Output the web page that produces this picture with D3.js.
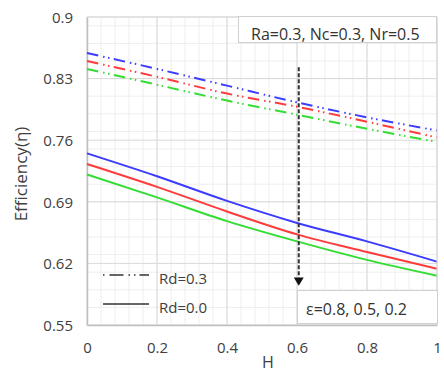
<!DOCTYPE html>
<html>
<head>
<meta charset="utf-8">
<script src="https://cdn.jsdelivr.net/npm/d3@7"></script>
<style>
  body { margin: 0; background: #fff; }
  svg { font-family: "Open Sans", sans-serif; }
</style>
</head>
<body>
<svg id="chart" width="444" height="374"></svg>
<script>
// H values along the x axis
const hValues = [0, 0.2, 0.4, 0.6, 0.8, 1];

// Rd = 0.3 (dash-dot), eps = 0.8, 0.5, 0.2
const rd3Eps08 = [0.859, 0.841, 0.822, 0.803, 0.786, 0.771];
const rd3Eps05 = [0.850, 0.832, 0.813, 0.798, 0.781, 0.763];
const rd3Eps02 = [0.841, 0.823, 0.805, 0.789, 0.773, 0.758];

// Rd = 0.0 (solid), eps = 0.8, 0.5, 0.2
const rd0Eps08 = [0.745, 0.719, 0.691, 0.666, 0.645, 0.622];
const rd0Eps05 = [0.733, 0.707, 0.679, 0.653, 0.633, 0.614];
const rd0Eps02 = [0.721, 0.695, 0.668, 0.645, 0.624, 0.606];

const xTicks = [0, 0.2, 0.4, 0.6, 0.8, 1];
const yTicks = [0.55, 0.62, 0.69, 0.76, 0.83, 0.9];

const svg = d3.select("#chart");
const margin = { top:17, right:7, bottom:49, left:87 };
const width = +svg.attr("width");
const height = +svg.attr("height");
const plotWidth = width - margin.left - margin.right;
const plotHeight = height - margin.top - margin.bottom;

const g = svg.append("g")
  .attr("transform", `translate(${margin.left}, ${margin.top})`);

const x = d3.scaleLinear().domain([0, 1]).range([0, plotWidth]);
const y = d3.scaleLinear().domain([0.55, 0.9]).range([plotHeight, 0]);

// minor grid
const xMinor = d3.range(0, 1.0001, 0.04);
const yMinor = d3.range(0.55, 0.9001, 0.02);

g.append("g").selectAll("line")
  .data(xMinor)
  .join("line")
  .attr("x1", d => x(d)).attr("x2", d => x(d))
  .attr("y1", 0).attr("y2", plotHeight)
  .attr("stroke", "#eeeeee");

g.append("g").selectAll("line")
  .data(yMinor)
  .join("line")
  .attr("x1", 0).attr("x2", plotWidth)
  .attr("y1", d => y(d)).attr("y2", d => y(d))
  .attr("stroke", "#eeeeee");

// major grid
g.append("g").selectAll("line")
  .data(xTicks)
  .join("line")
  .attr("x1", d => x(d)).attr("x2", d => x(d))
  .attr("y1", 0).attr("y2", plotHeight)
  .attr("stroke", "#d9d9d9");

g.append("g").selectAll("line")
  .data(yTicks)
  .join("line")
  .attr("x1", 0).attr("x2", plotWidth)
  .attr("y1", d => y(d)).attr("y2", d => y(d))
  .attr("stroke", "#d9d9d9");

// axes
const xAxis = g.append("g")
  .attr("transform", `translate(0, ${plotHeight})`)
  .call(d3.axisBottom(x).tickValues(xTicks).tickSize(0).tickPadding(17).tickFormat(d3.format("")));

const yAxis = g.append("g")
  .call(d3.axisLeft(y).tickValues(yTicks).tickSize(0).tickPadding(14).tickFormat(d3.format(".2~f")));

[xAxis, yAxis].forEach(a => {
  a.select(".domain").attr("stroke", "#bfbfbf").attr("stroke-width", 1.5);
  a.selectAll("text")
    .attr("font-family", "Open Sans, sans-serif")
    .attr("font-size", 15)
    .attr("fill", "#404040");
});
yAxis.selectAll("text").attr("dy", "0.35em");

// axis labels
svg.append("text")
  .attr("x", 268)
  .attr("y", height - 6)
  .attr("text-anchor", "middle")
  .attr("font-size", 16)
  .attr("fill", "#404040")
  .text("H");

svg.append("text")
  .attr("transform", "rotate(-90)")
  .attr("x", -174)
  .attr("y", 27)
  .attr("text-anchor", "middle")
  .attr("font-size", 17)
  .attr("fill", "#404040")
  .text("Efficiency(η)");

// series
const colors = ["#3c3cff", "#ff3c3c", "#33dd33"];
const dashDot = "11.5,5,1.5,3.5,1.5,4.5";

const series = [
  { vals: rd3Eps08, color: colors[0], dash: dashDot },
  { vals: rd3Eps05, color: colors[1], dash: dashDot },
  { vals: rd3Eps02, color: colors[2], dash: dashDot },
  { vals: rd0Eps08, color: colors[0], dash: null },
  { vals: rd0Eps05, color: colors[1], dash: null },
  { vals: rd0Eps02, color: colors[2], dash: null }
];

const line = d3.line()
  .x((d, i) => x(hValues[i]))
  .y(d => y(d))
  .curve(d3.curveMonotoneX);

g.selectAll(".series")
  .data(series)
  .join("path")
  .attr("class", "series")
  .attr("d", d => line(d.vals))
  .attr("fill", "none")
  .attr("stroke", d => d.color)
  .attr("stroke-width", 2)
  .attr("stroke-dasharray", d => d.dash);

// plot frame (top / right)
g.append("path")
  .attr("d", `M0,0H${plotWidth}V${plotHeight}`)
  .attr("fill", "none")
  .attr("stroke", "#d9d9d9");

// epsilon arrow
const ax = x(0.605);
g.append("line")
  .attr("x1", ax).attr("x2", ax)
  .attr("y1", y(0.843)).attr("y2", y(0.604))
  .attr("stroke", "#333")
  .attr("stroke-width", 2)
  .attr("stroke-dasharray", "4,2");

g.append("path")
  .attr("d", `M${ax - 5},${y(0.604)}L${ax + 5},${y(0.604)}L${ax},${y(0.5945)}Z`)
  .attr("fill", "#111");

// top parameter box
g.append("rect")
  .attr("x", 151.5).attr("y", -0.5)
  .attr("width", 198).attr("height", 26)
  .attr("fill", "#fff")
  .attr("stroke", "#d0d0d0");

g.append("text")
  .attr("x", 164).attr("y", 22.5)
  .attr("font-size", 16)
  .attr("fill", "#333")
  .text("Ra=0.3, Nc=0.3, Nr=0.5");

// bottom epsilon box
g.append("rect")
  .attr("x", 210.5).attr("y", 273.5)
  .attr("width", 140).attr("height", 33)
  .attr("fill", "#fff")
  .attr("stroke", "#d0d0d0");

g.append("text")
  .attr("x", 219).attr("y", 298)
  .attr("font-size", 16)
  .attr("fill", "#333")
  .text("ε=0.8, 0.5, 0.2");

// Rd legend
const legend = [
  { label: "Rd=0.3", dash: "1.5,5,14,5,1.5,4,1.5,4,14", y: 258 },
  { label: "Rd=0.0", dash: null, y: 287 }
];

const lg = g.selectAll(".legend")
  .data(legend)
  .join("g")
  .attr("class", "legend");

lg.append("line")
  .attr("x1", 16).attr("x2", 62)
  .attr("y1", d => d.y).attr("y2", d => d.y)
  .attr("stroke", "#333")
  .attr("stroke-width", 1.6)
  .attr("stroke-dasharray", d => d.dash);

lg.append("text")
  .attr("x", 72)
  .attr("y", d => d.y + 9)
  .attr("font-size", 15)
  .attr("fill", "#404040")
  .text(d => d.label);
</script>
</body>
</html>
